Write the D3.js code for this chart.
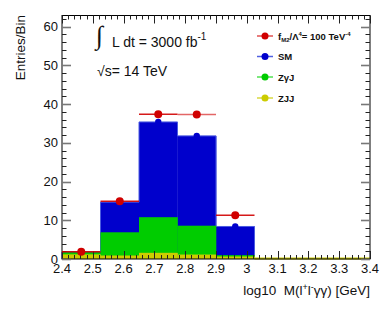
<!DOCTYPE html>
<html><head><meta charset="utf-8">
<script src="https://cdn.jsdelivr.net/npm/d3@7"></script>
<style>html,body{margin:0;padding:0;background:#fff;} svg{display:block;font-family:"Liberation Sans",Arial,sans-serif;}</style>
</head><body>
<script>
const binEdges = [2.4, 2.525, 2.65, 2.775, 2.9, 3.025, 3.15, 3.275, 3.4];
const smValues = [1.85, 14.7, 35.4, 31.8, 8.4, 0, 0, 0];
const zgjValues = [1.75, 6.9, 10.8, 8.6, 1.0, 0, 0, 0];
const zjjValues = [1.2, 0.9, 1.6, 1.15, 0.65, 0, 0, 0];
const signalValues = [1.9, 14.9, 37.4, 37.3, 11.3, 0, 0, 0];
const xTicks = [2.4, 2.5, 2.6, 2.7, 2.8, 2.9, 3.0, 3.1, 3.2, 3.3, 3.4];
const yTicks = [0, 10, 20, 30, 40, 50, 60];
const legendLabels = ["signal", "SM", "ZγJ", "ZJJ"];

const W = 390, H = 309;
const L = 62, R = 370, T = 15.5, B = 259;
const colBlue = "#0000cc", colGreen = "#00cc00", colYellow = "#cccc00", colRed = "#d00000";

const svg = d3.select("body").append("svg").attr("width", W).attr("height", H);
const x = d3.scaleLinear().domain([2.4, 3.4]).range([L, R]);
const y = d3.scaleLinear().domain([0, 62.9]).range([B, T]);

const bins = d3.range(binEdges.length - 1).map(i => ({
  i, x0: binEdges[i], x1: binEdges[i + 1],
  sm: smValues[i], zgj: zgjValues[i], zjj: zjjValues[i], sig: signalValues[i]
}));

function bars(key, fill) {
  svg.append("g").selectAll("rect").data(bins.filter(d => d[key] > 0)).join("rect")
    .attr("x", d => x(d.x0)).attr("width", d => x(d.x1) - x(d.x0) + 0.3)
    .attr("y", d => y(d[key])).attr("height", d => y(0) - y(d[key]))
    .attr("fill", fill);
}
bars("sm", colBlue);
// SM outline (step histogram)
const smBins = bins.filter(d => d.sm > 0);
const stepPts = [[x(smBins[0].x0), y(0)]];
smBins.forEach(d => { stepPts.push([x(d.x0), y(d.sm)]); stepPts.push([x(d.x1), y(d.sm)]); });
stepPts.push([x(smBins[smBins.length - 1].x1), y(0)]);
svg.append("path").attr("d", d3.line()(stepPts)).attr("fill", "none")
  .attr("stroke", "#4a5ae0").attr("stroke-width", 1);
bars("zgj", colGreen);
bars("zjj", colYellow);

// blue markers (SM)
svg.append("g").selectAll("circle").data(smBins).join("circle")
  .attr("cx", d => x((d.x0 + d.x1) / 2)).attr("cy", d => y(d.sm)).attr("r", 3.2).attr("fill", colBlue);

// yellow line along zero for empty bins
const empty = bins.filter(d => d.zjj === 0);
svg.append("line").attr("x1", x(empty[0].x0)).attr("x2", x(binEdges[binEdges.length - 1]))
  .attr("y1", y(0) - 0.5).attr("y2", y(0) - 0.5).attr("stroke", colYellow).attr("stroke-width", 2);

// frame
svg.append("rect").attr("x", L).attr("y", T).attr("width", R - L).attr("height", B - T)
  .attr("fill", "none").attr("stroke", "#000").attr("stroke-width", 1);

// ticks
const tickG = svg.append("g").attr("stroke", "#222").attr("stroke-width", 1);
const xMinor = d3.range(0, 51).map(k => 2.4 + k * 0.02);
xMinor.forEach((v, k) => {
  const len = (k % 5 === 0) ? 8 : 4;
  const px = Math.round(x(v)) + 0.5;
  tickG.append("line").attr("x1", px).attr("x2", px).attr("y1", B).attr("y2", B - len);
  tickG.append("line").attr("x1", px).attr("x2", px).attr("y1", T).attr("y2", T + len);
});
const yMinor = d3.range(0, 32).map(k => k * 2).filter(v => v <= 62.9);
yMinor.forEach(v => {
  const len = (v % 10 === 0) ? 9 : 4.5;
  const py = Math.round(y(v)) + 0.5;
  tickG.append("line").attr("x1", L).attr("x2", L + len).attr("y1", py).attr("y2", py)
    .attr("stroke", v % 10 === 0 ? "#777" : "#222").attr("stroke-width", v % 10 === 0 ? 1.6 : 1);
  tickG.append("line").attr("x1", R).attr("x2", R - len).attr("y1", py).attr("y2", py)
    .attr("stroke", v % 10 === 0 ? "#777" : "#222").attr("stroke-width", v % 10 === 0 ? 1.6 : 1);
});

// tick labels
svg.append("g").selectAll("text").data(xTicks).join("text")
  .attr("x", d => x(d)).attr("y", 273).attr("text-anchor", "middle")
  .attr("font-size", 13).attr("fill", "#111").text(d => d === 3 ? "3" : d.toFixed(1));
svg.append("g").selectAll("text").data(yTicks).join("text")
  .attr("x", 58).attr("y", d => y(d) + 4.5).attr("text-anchor", "end")
  .attr("font-size", 13).attr("fill", "#111").text(d => d);

// axis titles
svg.append("text").attr("transform", "translate(25,15) rotate(-90)").attr("text-anchor", "end")
  .attr("font-size", 13.5).attr("fill", "#111").text("Entries/Bin");
const xt = svg.append("text").attr("x", 370).attr("y", 295).attr("text-anchor", "end")
  .attr("font-size", 13.5).attr("fill", "#111");
xt.append("tspan").text("log10\u00a0\u00a0M(l");
xt.append("tspan").attr("dy", -5).attr("font-size", 9).text("+");
xt.append("tspan").attr("dy", 5).text("l");
xt.append("tspan").attr("dy", -5).attr("font-size", 9).text("-");
xt.append("tspan").attr("dy", 5).text("γγ) [GeV]");

// signal points with horizontal error bars
const sigBins = bins.filter(d => d.sig > 0);
svg.append("g").selectAll("line").data(sigBins).join("line")
  .attr("x1", d => x(d.x0)).attr("x2", d => x(d.x1))
  .attr("y1", d => y(d.sig)).attr("y2", d => y(d.sig))
  .attr("stroke", colRed).attr("stroke-width", 1.5).attr("stroke-opacity", (d, i) => i === 3 ? 0.6 : 0.9);
svg.append("g").selectAll("circle").data(sigBins).join("circle")
  .attr("cx", d => x((d.x0 + d.x1) / 2)).attr("cy", d => y(d.sig)).attr("r", 4).attr("fill", colRed);

// luminosity text
svg.append("text").attr("x", 96).attr("y", 44).attr("font-size", 26).attr("fill", "#111")
  .attr("font-family", "DejaVu Sans").attr("font-weight", 200).text("∫");
const lt = svg.append("text").attr("x", 112).attr("y", 47).attr("font-size", 14).attr("fill", "#111");
lt.append("tspan").text("L dt = 3000 fb");
lt.append("tspan").attr("dy", -7).attr("font-size", 10).text("-1");
const st = svg.append("text").attr("x", 97).attr("y", 76).attr("font-size", 14).attr("fill", "#111");
st.append("tspan").text("√s= 14 TeV");

// legend
const legColors = [colRed, colBlue, colGreen, colYellow];
const legLine = ["#e05050", "#5060e0", "#50e050", "#d8d840"];
const legY = [36, 56.5, 77, 98];
const lg = svg.append("g");
legendLabels.forEach((lab, i) => {
  lg.append("line").attr("x1", 257).attr("x2", 273).attr("y1", legY[i]).attr("y2", legY[i])
    .attr("stroke", legLine[i]).attr("stroke-width", 1.5);
  lg.append("circle").attr("cx", 265).attr("cy", legY[i]).attr("r", 3.5).attr("fill", legColors[i]);
  const t = lg.append("text").attr("x", 278).attr("y", legY[i] + 3.5).attr("font-size", 9.5)
    .attr("font-weight", "bold").attr("fill", "#111");
  if (i === 0) {
    t.append("tspan").text("f");
    t.append("tspan").attr("dy", 2.5).attr("font-size", 6).text("M2");
    t.append("tspan").attr("dy", -2.5).text("/Λ");
    t.append("tspan").attr("dy", -4).attr("font-size", 6).text("4");
    t.append("tspan").attr("dy", 4).text("= 100 TeV");
    t.append("tspan").attr("dy", -4).attr("font-size", 6).text("-4");
  } else {
    t.text(lab);
  }
});
</script>
</body></html>
